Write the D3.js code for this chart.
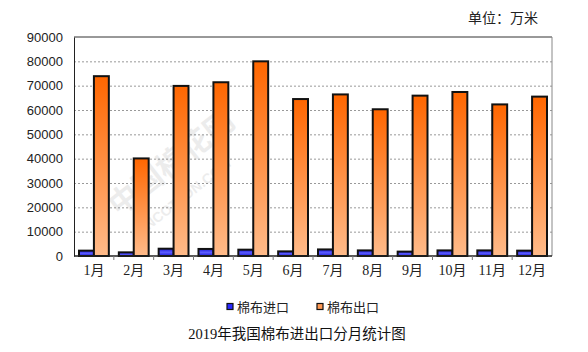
<!DOCTYPE html>
<html>
<head>
<meta charset="utf-8">
<script src="https://cdn.jsdelivr.net/npm/d3@7"></script>
<style>
  html, body { margin: 0; padding: 0; background: #fff; }
  svg { display: block; }
</style>
</head>
<body>
<svg id="chart" width="588" height="352"></svg>
<script>
// 2019年我国棉布进出口分月统计图 — 单位：万米
const MONTHS = ["1月", "2月", "3月", "4月", "5月", "6月", "7月", "8月", "9月", "10月", "11月", "12月"];
const IMPORTS = [2200, 1500, 3000, 2900, 2600, 1900, 2700, 2300, 1800, 2300, 2300, 2200];
const EXPORTS = [73900, 40100, 69900, 71400, 80000, 64500, 66400, 60300, 65900, 67400, 62300, 65500];
const SERIES = ["棉布进口", "棉布出口"];
const Y_TICKS = [0, 10000, 20000, 30000, 40000, 50000, 60000, 70000, 80000, 90000];

const svg = d3.select("#chart");
const margin = { top: 37, right: 36, bottom: 96, left: 74 };
const W = 588 - margin.left - margin.right;
const H = 352 - margin.top - margin.bottom;

const defs = svg.append("defs");
const og = defs.append("linearGradient").attr("id", "gOrange").attr("x1", 0).attr("y1", 0).attr("x2", 0).attr("y2", 1);
og.append("stop").attr("offset", "0%").attr("stop-color", "#ff6600");
og.append("stop").attr("offset", "100%").attr("stop-color", "#ffbb8a");
const bg = defs.append("linearGradient").attr("id", "gBlue").attr("x1", 0).attr("y1", 0).attr("x2", 0).attr("y2", 1);
bg.append("stop").attr("offset", "0%").attr("stop-color", "#1a1ad6");
bg.append("stop").attr("offset", "50%").attr("stop-color", "#5c5cff");
bg.append("stop").attr("offset", "100%").attr("stop-color", "#1a1ad6");

const g = svg.append("g").attr("transform", `translate(${margin.left},${margin.top})`);

const x0 = d3.scaleBand().domain(MONTHS).range([0, W]).paddingInner(0).paddingOuter(0);
const x1 = d3.scaleBand().domain(SERIES).range([5, x0.bandwidth() - 5]);
const y = d3.scaleLinear().domain([0, 90000]).range([H, 0]);

// grid lines
g.append("g")
  .call(d3.axisLeft(y).tickValues(Y_TICKS.slice(1, -1)).tickSize(-W).tickFormat(""))
  .call((gg) => gg.select(".domain").remove())
  .selectAll("line").attr("stroke", "#999").attr("stroke-dasharray", "2,2");

// watermark
g.append("text")
  .attr("transform", `translate(${x0("2月") + 5},${y(16000)}) rotate(-38)`)
  .style("font-family", "'Noto Sans CJK SC', sans-serif").style("font-size", "30px")
  .style("font-weight", "bold").style("fill", "#000").style("opacity", 0.07)
  .text("中国棉花网");
g.append("text")
  .attr("transform", `translate(${x0("2月") + 27},${y(8000)}) rotate(-38)`)
  .style("font-family", "'Liberation Sans', sans-serif").style("font-size", "14px")
  .style("font-weight", "bold").style("fill", "#000").style("opacity", 0.07)
  .text("CNCOTTON.COM");

// plot frame
g.append("line").attr("x1", 0).attr("x2", W).attr("y1", 0).attr("y2", 0).attr("stroke", "#333");
g.append("line").attr("x1", W).attr("x2", W).attr("y1", 0).attr("y2", H).attr("stroke", "#888");

// bars
const groups = g.selectAll(".grp").data(MONTHS).join("g")
  .attr("transform", (m) => `translate(${x0(m)},0)`);
groups.append("rect")
  .attr("x", x1("棉布进口")).attr("width", x1.bandwidth())
  .attr("y", (m, i) => y(IMPORTS[i])).attr("height", (m, i) => H - y(IMPORTS[i]))
  .attr("fill", "url(#gBlue)").attr("stroke", "#111").attr("stroke-width", 2);
groups.append("rect")
  .attr("x", x1("棉布出口")).attr("width", x1.bandwidth())
  .attr("y", (m, i) => y(EXPORTS[i])).attr("height", (m, i) => H - y(EXPORTS[i]))
  .attr("fill", "url(#gOrange)").attr("stroke", "#111").attr("stroke-width", 2);

// y axis
const yAxis = g.append("g")
  .call(d3.axisLeft(y).tickValues(Y_TICKS).tickSize(0).tickPadding(11).tickFormat(d3.format("d")));
yAxis.select(".domain").attr("stroke", "#222");
yAxis.selectAll("text").style("font-family", "'Liberation Sans', Arial, sans-serif")
  .style("font-size", "13px").style("fill", "#222");

// x axis: ticks at category boundaries
const xAxis = g.append("g").attr("transform", `translate(0,${H})`);
xAxis.append("line").attr("x1", 0).attr("x2", W).attr("stroke", "#222").attr("stroke-width", 1.5);
xAxis.selectAll(".tk").data(MONTHS.slice(1)).join("line")
  .attr("x1", (m) => x0(m)).attr("x2", (m) => x0(m)).attr("y1", 0).attr("y2", 4)
  .attr("stroke", "#777");
xAxis.selectAll(".lbl").data(MONTHS).join("text")
  .attr("x", (m) => x0(m) + x0.bandwidth() / 2).attr("y", 19)
  .attr("text-anchor", "middle")
  .style("font-family", "'Liberation Serif', 'Noto Sans CJK SC', serif").style("font-size", "14px")
  .style("fill", "#222").text((m) => m);

// unit label
svg.append("text").attr("x", 538).attr("y", 23).attr("text-anchor", "end")
  .style("font-family", "'Noto Sans CJK SC', sans-serif").style("font-size", "14px").style("fill", "#222")
  .text("单位：万米");

// legend
const legend = svg.append("g").attr("transform", "translate(227,307)");
const legItems = [
  { name: SERIES[0], fill: "#2a2aff", x: 0 },
  { name: SERIES[1], fill: "#ff9a55", x: 90 },
];
legItems.forEach((it) => {
  legend.append("rect").attr("x", it.x).attr("y", -3.5).attr("width", 6).attr("height", 6)
    .attr("fill", it.fill).attr("stroke", "#111").attr("stroke-width", 1.2);
  legend.append("text").attr("x", it.x + 10).attr("y", 5)
    .style("font-family", "'Noto Sans CJK SC', sans-serif").style("font-size", "13px").style("fill", "#222")
    .text(it.name);
});

// title
svg.append("text").attr("x", 297).attr("y", 339).attr("text-anchor", "middle")
  .style("font-family", "'Liberation Serif', 'Noto Sans CJK SC', serif").style("font-size", "14.5px")
  .style("fill", "#111").text("2019年我国棉布进出口分月统计图");
</script>
</body>
</html>
